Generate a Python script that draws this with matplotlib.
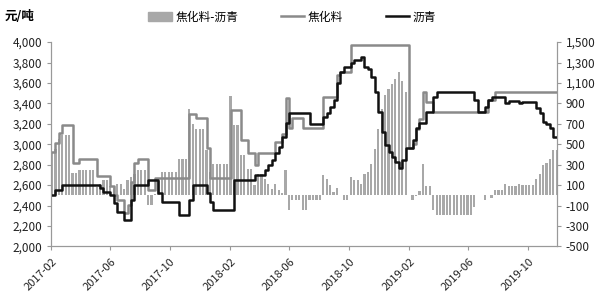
import numpy as np
import pandas as pd
import matplotlib
matplotlib.use("Agg")
import matplotlib.pyplot as plt
import matplotlib.dates as mdates
import matplotlib.transforms as mtransforms
from matplotlib.ticker import FuncFormatter
from matplotlib.patches import Patch
from matplotlib.lines import Line2D

plt.rcParams['font.family'] = ['Noto Sans CJK SC', 'DejaVu Sans']

# weekly prices (yuan/t), written as runs: value held for n weeks
coke_vals = [2920, 3010, 3106, 3188, 2820, 2852, 2685, 2590, 2503, 2455,
             2325, 2406, 2633, 2813, 2852, 2552, 2665, 3300, 3253, 2960,
             2665, 3334, 3041, 2911, 2797, 2911, 3024, 3100, 3449, 3155,
             3253, 3155, 3464, 3676, 3709, 3970, 2960, 3000, 3150, 3250,
             3513, 3410, 3318, 3432, 3513]
coke_weeks = [1, 1, 1, 3, 2, 5, 4, 1, 1, 2,
              1, 1, 1, 1, 3, 2, 10, 2, 3, 1,
              6, 3, 2, 2, 1, 5, 2, 1, 1, 1,
              3, 6, 4, 1, 3, 17, 1, 1, 1, 1,
              1, 2, 16, 2, 19]

asph_vals = [2503, 2552, 2601, 2569, 2536, 2500, 2430, 2340, 2259, 2450,
             2600, 2650, 2520, 2438, 2308, 2455, 2601, 2520, 2438, 2357,
             2650, 2699, 2748, 2797, 2846, 2911, 2976, 3073, 3204, 3302,
             3200, 3269, 3302, 3367, 3432, 3600, 3709, 3758, 3791, 3823,
             3855, 3758, 3740, 3660, 3513, 3318, 3122, 2992, 2927, 2878,
             2829, 2764, 2846, 2960, 3041, 3155, 3204, 3318, 3464, 3513,
             3432, 3318, 3367, 3432, 3458, 3406, 3425, 3400, 3412, 3351,
             3302, 3220, 3200, 3155, 3073, 3067]
asph_weeks = [1, 2, 11, 1, 2, 1, 1, 2, 2, 1,
              4, 3, 1, 5, 3, 1, 4, 1, 1, 6,
              6, 3, 1, 1, 1, 1, 1, 1, 1, 6,
              4, 1, 1, 1, 1, 1, 1, 2, 1, 2,
              1, 1, 1, 1, 1, 1, 1, 1, 1, 1,
              1, 1, 1, 2, 1, 1, 2, 2, 1, 11,
              1, 2, 1, 1, 4, 1, 3, 1, 4, 1,
              1, 1, 1, 1, 1, 1]

coke = np.repeat(coke_vals, coke_weeks)
asph = np.repeat(asph_vals, asph_weeks)
dates = pd.date_range("2017-02-03", periods=len(coke), freq="7D")
spread = coke - asph

fig, ax = plt.subplots(figsize=(6, 3.05), dpi=100)
fig.subplots_adjust(left=0.085, right=0.928, bottom=0.192, top=0.862)
ax2 = ax.twinx()

ax2.bar(dates, spread, width=4.5, color="#a8a8a8", linewidth=0)
ax.plot(dates, coke, color="#8a8a8a", lw=1.8, drawstyle="steps-post")
ax.plot(dates, asph, color="#111111", lw=1.8, drawstyle="steps-post")

ax.set_zorder(ax2.get_zorder() + 1)
ax.patch.set_visible(False)

ax.set_ylim(2000, 4000)
ax.set_yticks(np.arange(2000, 4001, 200))
ax2.set_ylim(-500, 1500)
ax2.set_yticks(np.arange(-500, 1501, 200))
fmt = FuncFormatter(lambda v, p: f"{v:,.0f}")
ax.yaxis.set_major_formatter(fmt)
ax2.yaxis.set_major_formatter(fmt)

ax.set_xlim(pd.Timestamp("2017-02-01"), dates[-1])
ax.xaxis.set_major_locator(mdates.MonthLocator(bymonth=[2, 6, 10]))
ax.xaxis.set_major_formatter(mdates.DateFormatter("%Y-%m"))

for a in (ax, ax2):
    a.spines["top"].set_visible(False)
    for s in ("left", "right", "bottom"):
        a.spines[s].set_color("#999999")
        a.spines[s].set_linewidth(0.8)
    a.tick_params(colors="#999999", labelcolor="#222222", labelsize=8.5,
                  length=3, width=0.8)
ax.tick_params(axis="x", labelsize=8, pad=7)

shift = mtransforms.ScaledTranslation(4 / 100, 0, fig.dpi_scale_trans)
for lbl in ax.get_xticklabels():
    lbl.set_rotation(45)
    lbl.set_ha("right")
    lbl.set_va("center")
    lbl.set_rotation_mode("anchor")
    lbl.set_transform(lbl.get_transform() + shift)

handles = [Patch(color="#a8a8a8"),
           Line2D([], [], color="#8a8a8a", lw=1.8),
           Line2D([], [], color="#111111", lw=1.8)]
fig.legend(handles, ["焦化料-沥青", "焦化料", "沥青"], loc="center",
           bbox_to_anchor=(0.487, 1 - 17 / 305), ncol=3, frameon=False,
           fontsize=8.5, columnspacing=3.6, handlelength=2.0,
           handletextpad=0.3)
fig.text(0.008, 1 - 17 / 305, "元/吨", va="center", ha="left",
         fontsize=9, fontweight="bold")

fig.savefig("out.png", dpi=100)
